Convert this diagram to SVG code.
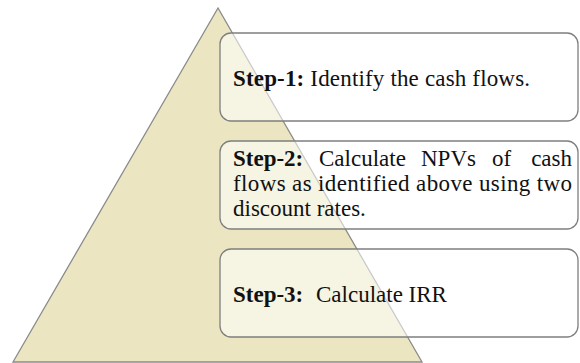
<svg xmlns="http://www.w3.org/2000/svg" width="580" height="363" viewBox="0 0 580 363">
<style>
.tri{fill:#ebe6c1;stroke:#8a8a8a;stroke-width:1.3}
.box{fill:#ffffff;fill-opacity:0.55;stroke:#7f7f7f;stroke-width:1.3}
.t{font-family:"Liberation Serif","Times New Roman",serif;font-size:23px;fill:#111}
.b{font-weight:bold}
</style>
<rect width="580" height="363" fill="#ffffff"/>
<g id="pyramid">
<polygon class="tri" points="218,8 13,362 422,362"/>
</g>
<g id="connectors"></g>
<g id="step1">
<rect class="box" x="220" y="33" width="358" height="88" rx="11"/>
<text class="t" x="233" y="86" textLength="297" lengthAdjust="spacing"><tspan class="b">Step-1:</tspan> Identify the cash flows.</text>
</g>
<g id="step2">
<rect class="box" x="220" y="141" width="358" height="88" rx="11"/>
<text class="t" y="166"><tspan class="b" x="233">Step-2:</tspan><tspan x="319">Calculate</tspan><tspan x="421">NPVs</tspan><tspan x="492">of</tspan><tspan x="572" text-anchor="end">cash</tspan></text>
<text class="t" x="233" y="191" textLength="339" lengthAdjust="spacing">flows as identified above using two</text>
<text class="t" x="233" y="216">discount rates.</text>
</g>
<g id="step3">
<rect class="box" x="220" y="249" width="358" height="88" rx="11"/>
<text class="t" y="302"><tspan class="b" x="233">Step-3:</tspan><tspan x="316">Calculate IRR</tspan></text>
</g>
</svg>
